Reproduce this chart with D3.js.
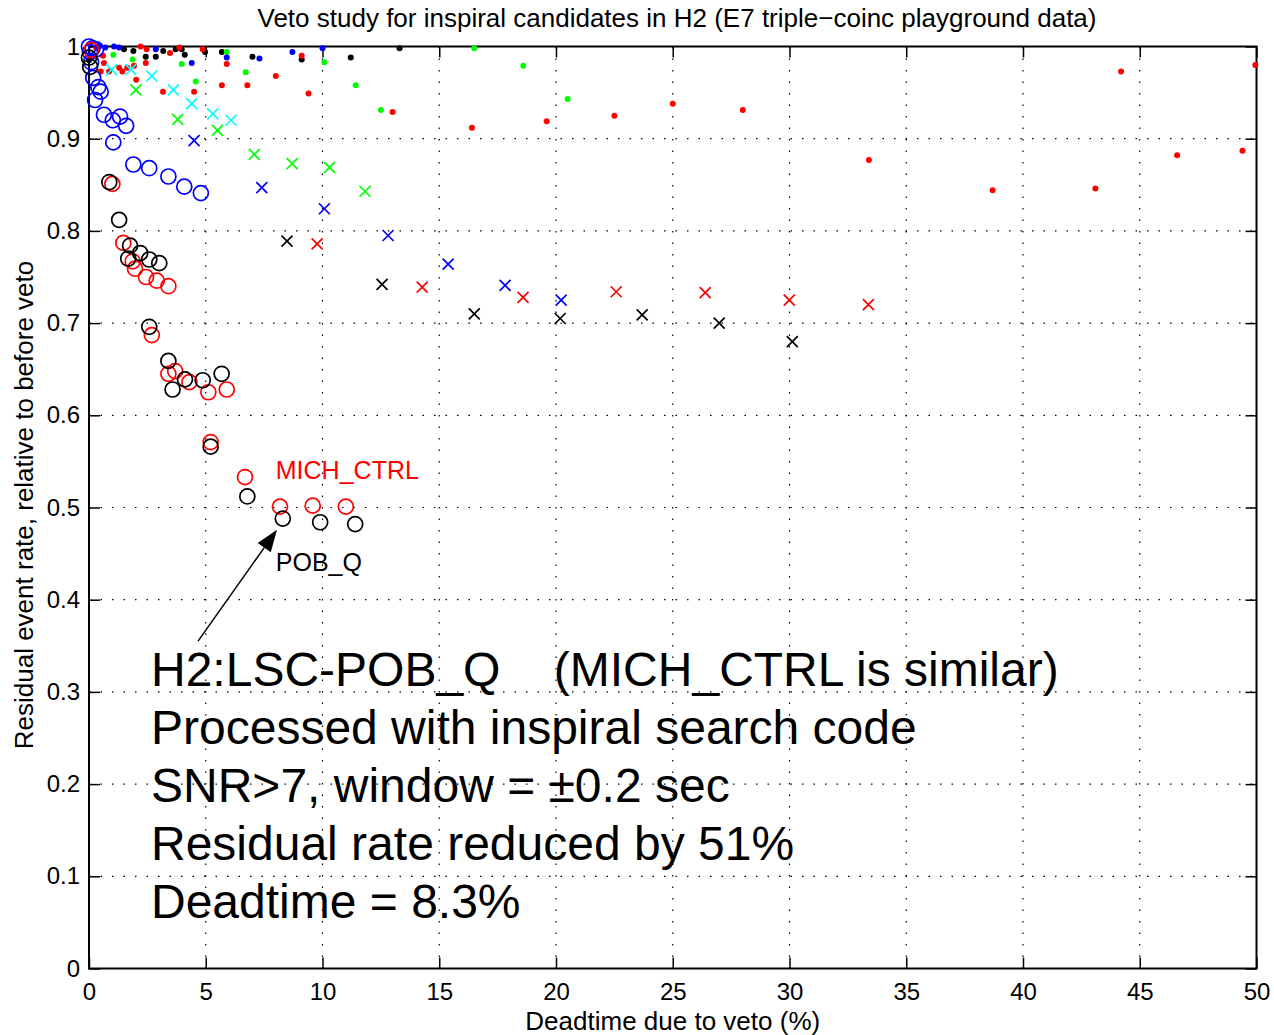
<!DOCTYPE html>
<html lang="en">
<head>
<meta charset="utf-8">
<script src="https://d3js.org/d3.v7.min.js"></script>
<style>
  body { margin: 0; background: #fff; }
  text { font-family: "Liberation Sans", Arial, Helvetica, sans-serif; }
</style>
</head>
<body>
<script>
// [deadtime %, residual rate] pairs
var pobCircles = [[0.0,0.988],[0.05,0.978],[0.87,0.853],[1.29,0.812],[1.76,0.784],[2.19,0.776],[1.68,0.770],[2.58,0.769],[3.01,0.765],[2.58,0.696],[3.40,0.659],[3.58,0.628],[4.11,0.639],[4.87,0.638],[5.68,0.645],[5.21,0.566],[6.78,0.512],[8.30,0.488],[9.90,0.484],[11.4,0.482]];
var michCircles = [[0.1,0.996],[1.0,0.851],[1.47,0.787],[1.87,0.767],[1.97,0.759],[2.44,0.750],[2.90,0.746],[3.40,0.740],[2.69,0.687],[3.40,0.645],[3.69,0.648],[4.30,0.636],[5.11,0.625],[5.90,0.628],[5.21,0.571],[6.68,0.533],[8.18,0.501],[9.58,0.502],[11.0,0.501]];
var blueCircles = [[0,1.0],[0.15,0.998],[0.3,0.997],[0.04,0.994],[0.09,0.983],[0.18,0.966],[0.40,0.956],[0.50,0.951],[0.26,0.942],[0.64,0.926],[1.02,0.920],[1.33,0.924],[1.59,0.914],[1.04,0.896],[1.90,0.872],[2.58,0.868],[3.40,0.859],[4.08,0.848],[4.79,0.841]];

var blackCross = [[8.48,0.789],[12.55,0.742],[16.5,0.710],[20.18,0.705],[23.69,0.709],[26.99,0.700],[30.12,0.680]];
var redCross = [[9.77,0.786],[14.27,0.739],[18.59,0.728],[22.58,0.734],[26.39,0.733],[29.99,0.725],[33.38,0.720]];
var blueCross = [[4.50,0.898],[7.40,0.847],[10.08,0.824],[12.81,0.795],[15.38,0.764],[17.82,0.741],[20.22,0.725]];
var greenCross = [[2.01,0.953],[3.80,0.921],[5.50,0.909],[7.08,0.883],[8.70,0.873],[10.30,0.869],[11.82,0.843]];
var cyanCross = [[0.97,0.975],[1.79,0.975],[2.69,0.968],[3.61,0.953],[4.40,0.938],[5.30,0.927],[6.08,0.920]];

var blackDots = [[0,0.985],[0.1,0.99],[1.5,0.997],[1.9,0.995],[2.43,0.989],[2.86,0.989],[3.18,0.995],[3.71,0.997],[3.97,0.997],[4.10,0.991],[4.97,0.994],[5.69,0.994],[7.0,0.989],[9.11,0.986],[11.21,0.988],[13.3,0.998]];
var redDots = [[0.07,0.988],[0.3,0.999],[0.6,0.99],[0.5,0.973],[0.64,0.982],[0.86,0.973],[1.29,0.977],[1.43,0.973],[1.64,0.977],[1.93,0.979],[2.02,0.964],[2.21,1.0],[2.43,0.982],[2.47,0.997],[3.17,0.951],[3.47,0.993],[3.87,0.999],[4.50,0.951],[4.87,0.997],[5.69,0.958],[5.90,0.981],[6.78,0.958],[8.0,0.968],[9.11,0.990],[9.40,0.949],[13.0,0.929],[16.4,0.912],[19.6,0.919],[22.5,0.925],[25.0,0.938],[28.0,0.931],[33.4,0.877],[38.7,0.844],[43.1,0.846],[44.2,0.973],[46.6,0.882],[49.4,0.887],[49.95,0.98]];
var blueDots = [[0.43,1.0],[0.7,0.999],[1.07,1.0],[1.29,0.999],[2.86,0.997],[4.40,0.982],[5.90,0.988],[7.30,0.987],[8.71,0.994],[10.0,0.998]];
var greenDots = [[1.04,0.991],[1.87,0.986],[3.97,0.981],[4.57,0.962],[5.90,0.994],[6.71,0.972],[10.08,0.983],[11.42,0.958],[12.5,0.931],[16.5,0.998],[18.6,0.979],[20.5,0.943]];

var xTicks = [0, 5, 10, 15, 20, 25, 30, 35, 40, 45, 50];
var yTicks = [0, 0.1, 0.2, 0.3, 0.4, 0.5, 0.6, 0.7, 0.8, 0.9, 1];

var notes = ["H2:LSC-POB_Q    (MICH_CTRL is similar)",
             "Processed with inspiral search code",
             "SNR>7, window = \u00b10.2 sec",
             "Residual rate reduced by 51%",
             "Deadtime = 8.3%"];

var width = 1274, height = 1035;
var mLeft = 89, mRight = 1256.5, mTop = 46.5, mBottom = 968.5;

var x = d3.scaleLinear().domain([0, 50]).range([mLeft, mRight]);
var y = d3.scaleLinear().domain([0, 1]).range([mBottom, mTop]);

var svg = d3.select("body").append("svg")
  .attr("width", width)
  .attr("height", height);

// dotted grid
var grid = svg.append("g").attr("stroke", "#000").attr("stroke-width", 1.2)
  .attr("stroke-dasharray", "1.5,10");
grid.selectAll(".gx").data(xTicks.slice(1, -1)).enter().append("line")
  .attr("x1", d => x(d)).attr("x2", d => x(d))
  .attr("y1", mBottom).attr("y2", mTop);
grid.selectAll(".gy").data(yTicks.slice(1, -1)).enter().append("line")
  .attr("y1", d => y(d)).attr("y2", d => y(d))
  .attr("x1", mLeft).attr("x2", mRight);

// axes with inward ticks on all four sides
var tickLen = 11;
svg.append("g").attr("transform", "translate(0," + mBottom + ")")
  .call(d3.axisBottom(x).tickValues(xTicks).tickSizeInner(-tickLen).tickSizeOuter(0).tickPadding(14))
  .call(g => g.select(".domain").remove());
svg.append("g").attr("transform", "translate(0," + mTop + ")")
  .call(d3.axisTop(x).tickValues(xTicks).tickSizeInner(-tickLen).tickSizeOuter(0).tickFormat(""))
  .call(g => g.select(".domain").remove());
svg.append("g").attr("transform", "translate(" + mLeft + ",0)")
  .call(d3.axisLeft(y).tickValues(yTicks).tickSizeInner(-tickLen).tickSizeOuter(0).tickPadding(9)
    .tickFormat(d => d === 0 || d === 1 ? d3.format("d")(d) : d3.format(".1f")(d)))
  .call(g => g.select(".domain").remove());
svg.append("g").attr("transform", "translate(" + mRight + ",0)")
  .call(d3.axisRight(y).tickValues(yTicks).tickSizeInner(-tickLen).tickSizeOuter(0).tickFormat(""))
  .call(g => g.select(".domain").remove());

svg.selectAll(".tick line").attr("stroke", "#000").attr("stroke-width", 1.5);
svg.selectAll(".tick text").attr("fill", "#000")
  .style("font-family", "'Liberation Sans', Arial, sans-serif").style("font-size", "24px");

svg.append("rect")
  .attr("x", mLeft).attr("y", mTop)
  .attr("width", mRight - mLeft).attr("height", mBottom - mTop)
  .attr("fill", "none").attr("stroke", "#000").attr("stroke-width", 2);

var plot = svg.append("g");

function dots(data, color) {
  plot.append("g").selectAll("circle").data(data).enter().append("circle")
    .attr("cx", d => x(d[0])).attr("cy", d => y(d[1]))
    .attr("r", 3).attr("fill", color);
}
function crosses(data, color) {
  var s = 5.5;
  plot.append("g").selectAll("path").data(data).enter().append("path")
    .attr("d", d => {
      var cx = x(d[0]), cy = y(d[1]);
      return "M" + (cx - s) + "," + (cy - s) + "L" + (cx + s) + "," + (cy + s) +
             "M" + (cx - s) + "," + (cy + s) + "L" + (cx + s) + "," + (cy - s);
    })
    .attr("stroke", color).attr("stroke-width", 1.7).attr("fill", "none");
}
function rings(data, color) {
  plot.append("g").selectAll("circle").data(data).enter().append("circle")
    .attr("cx", d => x(d[0])).attr("cy", d => y(d[1]))
    .attr("r", 7.5).attr("fill", "none").attr("stroke", color).attr("stroke-width", 1.7);
}

dots(blackDots, "#000");
dots(greenDots, "#00ff00");
dots(blueDots, "#0000ff");
dots(redDots, "#ff0000");
crosses(cyanCross, "#00ffff");
crosses(greenCross, "#00ff00");
crosses(blueCross, "#0000ff");
crosses(blackCross, "#000");
crosses(redCross, "#ff0000");
rings(blueCircles, "#0000ff");
rings(michCircles, "#ff0000");
rings(pobCircles, "#000");

// labels on the curves
svg.append("text").attr("x", x(8.0)).attr("y", y(0.531))
  .attr("fill", "#ff0000").style("font-size", "25px").text("MICH_CTRL");
svg.append("text").attr("x", x(8.0)).attr("y", y(0.431))
  .attr("fill", "#000").style("font-size", "25px").text("POB_Q");

// arrow
var ax0 = x(4.67), ay0 = y(0.355), ax1 = x(8.05), ay1 = y(0.476);
var ang = Math.atan2(ay1 - ay0, ax1 - ax0);
var hl = 22, hw = 8;
var bx = ax1 - hl * Math.cos(ang), by = ay1 - hl * Math.sin(ang);
svg.append("line").attr("x1", ax0).attr("y1", ay0).attr("x2", bx).attr("y2", by)
  .attr("stroke", "#000").attr("stroke-width", 1.5);
svg.append("path")
  .attr("d", "M" + ax1 + "," + ay1 +
    "L" + (bx + hw * Math.sin(ang)) + "," + (by - hw * Math.cos(ang)) +
    "L" + (bx - hw * Math.sin(ang)) + "," + (by + hw * Math.cos(ang)) + "Z")
  .attr("fill", "#000");

// big annotation block
svg.append("g").selectAll("text").data(notes).enter().append("text")
  .attr("x", 151).attr("y", (d, i) => 686 + i * 58)
  .attr("fill", "#000").style("font-size", "48px").style("white-space", "pre")
  .attr("xml:space", "preserve")
  .text(d => d);

// title and axis labels
svg.append("text").attr("x", 677).attr("y", 27)
  .attr("text-anchor", "middle").style("font-size", "26px")
  .text("Veto study for inspiral candidates in H2 (E7 triple\u2212coinc playground data)");
svg.append("text").attr("x", (mLeft + mRight) / 2).attr("y", 1030)
  .attr("text-anchor", "middle").style("font-size", "26px")
  .text("Deadtime due to veto (%)");
svg.append("text")
  .attr("transform", "translate(33,505) rotate(-90)")
  .attr("text-anchor", "middle").style("font-size", "26px")
  .text("Residual event rate, relative to before veto");
</script>
</body>
</html>
